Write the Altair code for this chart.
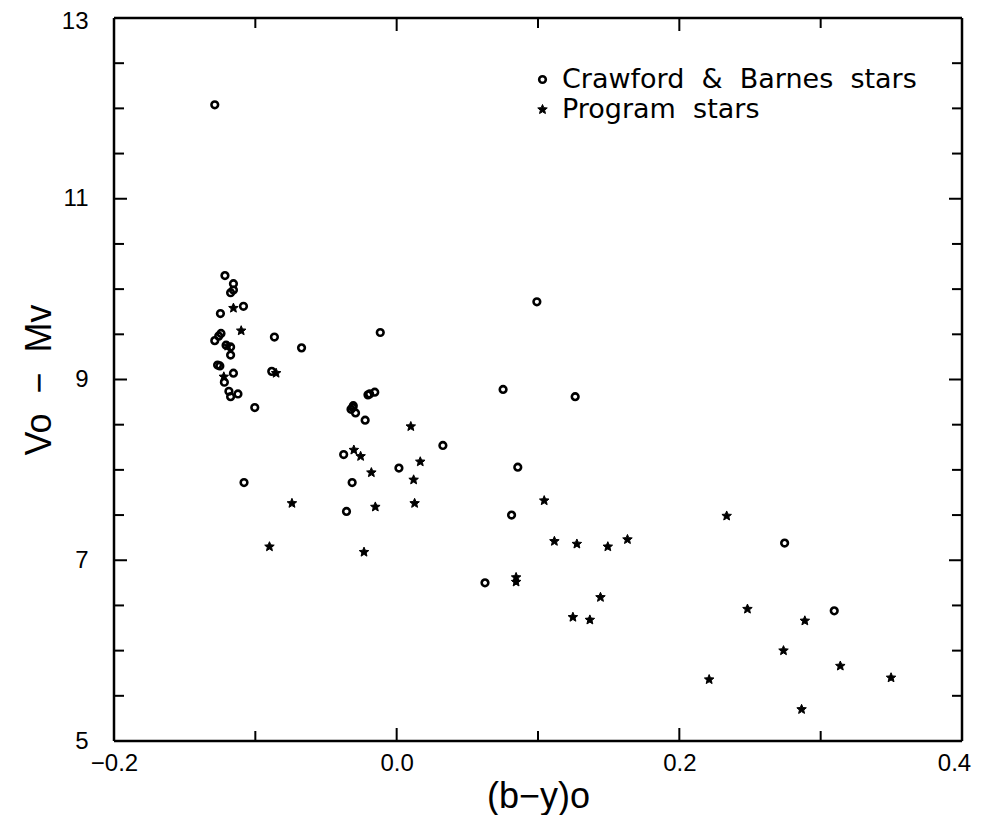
import altair as alt
import pandas as pd

# ---- data ----
cb_x = [-0.1287, -0.1215, -0.1155, -0.1155, -0.1175, -0.1084, -0.1247, -0.1287, -0.1259, -0.1243,
        -0.1207, -0.1175, -0.1175, -0.1267, -0.1251, -0.1155, -0.1219, -0.1187, -0.1175, -0.1123,
        -0.1004, -0.1080, -0.0865, -0.0884, -0.0673, -0.0116, -0.0155, -0.0203, -0.0191, -0.0307,
        -0.0311, -0.0323, -0.0291, -0.0223, -0.0375, -0.0315, -0.0355, 0.0016, 0.0327, 0.0992,
        0.0753, 0.1263, 0.0857, 0.0813, 0.0625, 0.2745, 0.3096]
cb_y = [12.04, 10.15, 10.06, 9.99, 9.96, 9.81, 9.73, 9.43, 9.48, 9.51,
        9.38, 9.36, 9.27, 9.16, 9.15, 9.07, 8.97, 8.87, 8.81, 8.84,
        8.69, 7.86, 9.47, 9.09, 9.35, 9.52, 8.86, 8.83, 8.84, 8.71,
        8.69, 8.67, 8.63, 8.55, 8.17, 7.86, 7.54, 8.02, 8.27, 9.86,
        8.89, 8.81, 8.03, 7.50, 6.75, 7.19, 6.44]

pr_x = [-0.1155, -0.1100, -0.1223, -0.1195, -0.0853, -0.0741, -0.0900, -0.0303, -0.0255, -0.0179,
        -0.0151, -0.0231, 0.0100, 0.0167, 0.0120, 0.0127, 0.1044, 0.1116, 0.1275, 0.1494,
        0.1633, 0.0845, 0.0845, 0.1442, 0.1247, 0.1367, 0.2335, 0.2482, 0.2888, 0.2737,
        0.2211, 0.3139, 0.3498, 0.2865]
pr_y = [9.79, 9.54, 9.03, 9.37, 9.07, 7.63, 7.15, 8.22, 8.15, 7.97,
        7.59, 7.09, 8.48, 8.09, 7.89, 7.63, 7.66, 7.21, 7.18, 7.15,
        7.23, 6.81, 6.76, 6.59, 6.37, 6.34, 7.49, 6.46, 6.33, 6.00,
        5.68, 5.83, 5.70, 5.35]

series_names = ["Crawford\u00a0\u00a0&\u00a0\u00a0Barnes\u00a0\u00a0stars", "Program\u00a0\u00a0stars"]

x_label_values = [-0.2, 0.0, 0.2, 0.4]
y_label_values = [5, 7, 9, 11, 13]
x_minor_ticks = [-0.1, 0.1, 0.3]
x_major_ticks = [0.0, 0.2]
y_minor_ticks = [5.5, 6.0, 6.5, 7.5, 8.0, 8.5, 9.5, 10.0, 10.5, 11.5, 12.0, 12.5]
y_major_ticks = [7, 9, 11]

# ---- layout ----
W, H = 848, 723
FONT = "DejaVu Sans"
STAR = ("M0,-1L0.2645,-0.364L0.951,-0.309L0.428,0.139L0.588,0.809L0,0.45"
        "L-0.588,0.809L-0.428,0.139L-0.951,-0.309L-0.2645,-0.364Z")

xs = alt.Scale(domain=[-0.2, 0.4], nice=False, zero=False)
ys = alt.Scale(domain=[5, 13], nice=False, zero=False)

df = pd.DataFrame({
    "x": cb_x + pr_x,
    "y": cb_y + pr_y,
    "s": [series_names[0]] * len(cb_x) + [series_names[1]] * len(pr_x),
})

leg = alt.Legend(title=None, orient="none", legendX=415, legendY=48, padding=0,
                 labelFontSize=27, labelFont=FONT, labelColor="black", labelOffset=6,
                 rowPadding=2, symbolStrokeColor="black", labelLimit=600)

x_axis = alt.Axis(values=x_label_values, format=".1f", ticks=False, domain=False, grid=False,
                  labelFontSize=24, labelPadding=10, labelFlush=False,
                  labelOffset={"condition": {"test": "datum.value > 0.39", "value": -8}, "value": 0},
                  title="(b\u2212y)o", titleFontSize=36, titleFontWeight="normal", titlePadding=4)
y_axis = alt.Axis(values=y_label_values, format="d", ticks=False, domain=False, grid=False,
                  labelFontSize=24, labelPadding=26,
                  labelOffset={"condition": {"test": "datum.value > 12.9", "value": 3}, "value": 0},
                  title="Vo\u00a0\u00a0\u2212\u00a0\u00a0Mv", titleFontSize=36, titleFontWeight="normal",
                  titlePadding=3)

same = lambda vals: alt.Scale(domain=series_names, range=vals)

points = alt.Chart(df).mark_point(filled=True, opacity=1).encode(
    x=alt.X("x:Q", scale=xs, axis=x_axis),
    y=alt.Y("y:Q", scale=ys, axis=y_axis),
    shape=alt.Shape("s:N", scale=same(["circle", STAR]), legend=leg),
    fill=alt.Fill("s:N", scale=same(["transparent", "black"]), legend=leg),
    stroke=alt.Stroke("s:N", scale=same(["black", "black"]), legend=leg),
    size=alt.Size("s:N", scale=same([44, 100]), legend=leg),
    strokeWidth=alt.StrokeWidth("s:N", scale=same([2.6, 1.0]), legend=leg),
)

def xticks(vals, length):
    d = pd.DataFrame({"x": vals})
    bottom = alt.Chart(d).mark_rule(color="black", strokeWidth=2).encode(
        x=alt.X("x:Q", scale=xs), y=alt.value(H), y2=alt.value(H - length))
    top = alt.Chart(d).mark_rule(color="black", strokeWidth=2).encode(
        x=alt.X("x:Q", scale=xs), y=alt.value(0), y2=alt.value(length))
    return [bottom, top]

def yticks(vals, length):
    d = pd.DataFrame({"y": vals})
    left = alt.Chart(d).mark_rule(color="black", strokeWidth=2).encode(
        y=alt.Y("y:Q", scale=ys), x=alt.value(0), x2=alt.value(length))
    right = alt.Chart(d).mark_rule(color="black", strokeWidth=2).encode(
        y=alt.Y("y:Q", scale=ys), x=alt.value(W), x2=alt.value(W - length))
    return [left, right]

# plot frame
frame_src = pd.DataFrame({"k": [0]})
frame = [
    alt.Chart(frame_src).mark_rule(color="black", strokeWidth=2.5).encode(
        x=alt.value(0), x2=alt.value(W), y=alt.value(0)),
    alt.Chart(frame_src).mark_rule(color="black", strokeWidth=2.5).encode(
        x=alt.value(0), x2=alt.value(W), y=alt.value(H)),
    alt.Chart(frame_src).mark_rule(color="black", strokeWidth=2.5).encode(
        x=alt.value(0), y=alt.value(0), y2=alt.value(H)),
    alt.Chart(frame_src).mark_rule(color="black", strokeWidth=2.5).encode(
        x=alt.value(W), y=alt.value(0), y2=alt.value(H)),
]

layers = [points] + xticks(x_minor_ticks, 10) + xticks(x_major_ticks, 13) \
    + yticks(y_minor_ticks, 10) + yticks(y_major_ticks, 13) + frame

chart = alt.layer(*layers).properties(
    width=W, height=H,
    autosize=alt.AutoSizeParams(type="none"),
    padding={"left": 106, "top": 10, "right": 12, "bottom": 74},
).configure_view(
    stroke=None
).configure_axis(
    labelColor="black", titleColor="black", labelFont=FONT, titleFont=FONT
).configure(background="white")

chart.save("out.html", embed_options={"renderer": "svg", "actions": False})
